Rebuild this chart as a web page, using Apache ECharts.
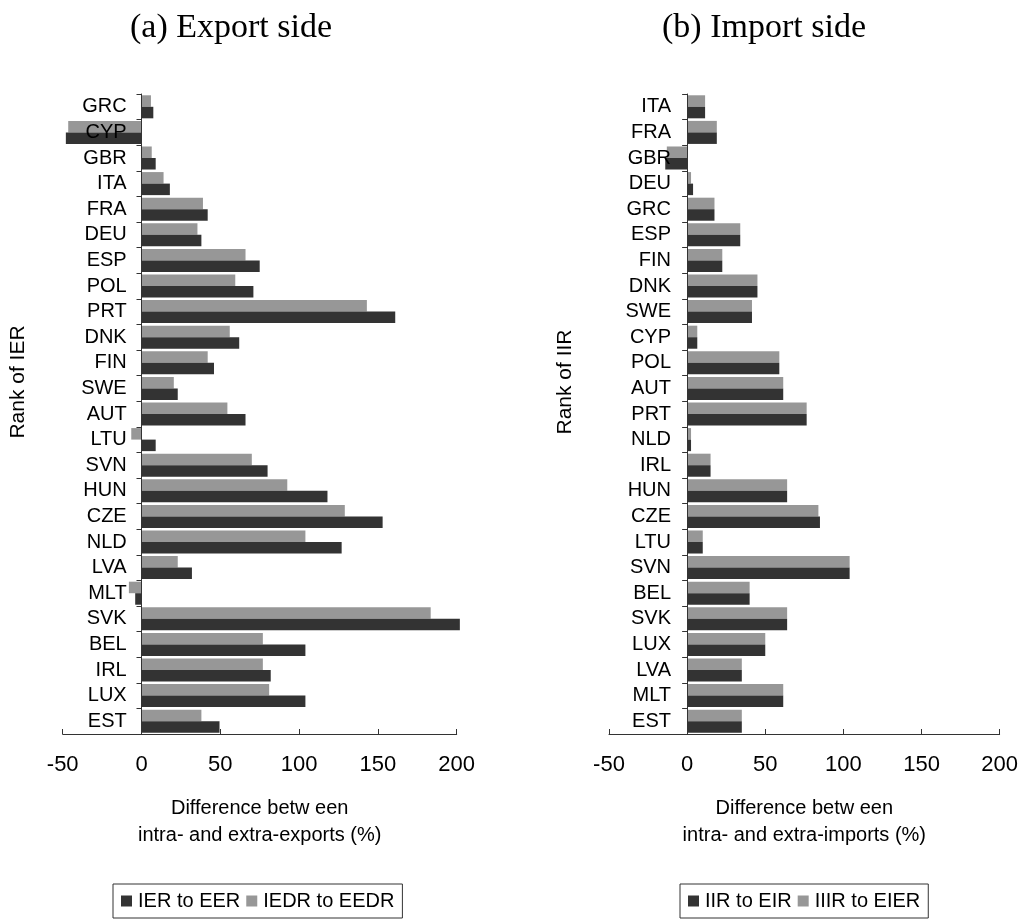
<!DOCTYPE html>
<html>
<head>
<meta charset="utf-8">
<script src="https://cdn.jsdelivr.net/npm/echarts@6/dist/echarts.min.js"></script>
<style>
  html, body { margin: 0; padding: 0; background: #fff; }
  #chart { width: 1021px; height: 923px; }
</style>
</head>
<body>
<div id="chart"></div>
<script>
// Export side: countries ranked by IER
const exportCountries = ['GRC','CYP','GBR','ITA','FRA','DEU','ESP','POL','PRT','DNK','FIN','SWE','AUT','LTU','SVN','HUN','CZE','NLD','LVA','MLT','SVK','BEL','IRL','LUX','EST'];
const ierToEer   = [7.5,-48,9,18,42,38,75,71,161,62,46,23,66,9,80,118,153,127,32,-4,202,104,82,104,49.5];
const iedrToEedr = [6,-46.5,6.5,14,39,35.5,66,59.5,143,56,42,20.5,54.5,-6.5,70,92.5,129,104,23,-8,183.5,77,77,81,38];

// Import side: countries ranked by IIR
const importCountries = ['ITA','FRA','GBR','DEU','GRC','ESP','FIN','DNK','SWE','CYP','POL','AUT','PRT','NLD','IRL','HUN','CZE','LTU','SVN','BEL','SVK','LUX','LVA','MLT','EST'];
const iirToEir   = [11.5,19,-14,3.8,17.5,34,22.5,45,41.5,6.5,59,61.5,76.5,2.5,15,64,85,10,104,40,64,50,35,61.5,35];
const iiirToEier = [11.5,19,-13,2.5,17.5,34,22.5,45,41.5,6.5,59,61.5,76.5,2.5,15,64,84,10,104,40,64,50,35,61.5,35];

// Shared value-axis ticks
const valueTicks = { min: -50, max: 200, interval: 50 };

const DARK = '#333333';
const GRAY = '#979797';
const AXIS = '#333333';
const SANS = 'Liberation Sans, Arial, sans-serif';
const SERIF = 'Liberation Serif, Times New Roman, serif';

function valueAxis(gridIndex, name) {
  return {
    type: 'value', gridIndex,
    min: valueTicks.min, max: valueTicks.max, interval: valueTicks.interval,
    splitLine: { show: false },
    axisLine: { show: true, onZero: false, lineStyle: { color: AXIS, width: 1 } },
    axisTick: { show: true, inside: true, length: 5, lineStyle: { color: AXIS } },
    axisLabel: { color: '#000', fontFamily: SANS, fontSize: 22, margin: 20 },
    name, nameLocation: 'middle', nameGap: 61,
    nameTextStyle: { color: '#000', fontFamily: SANS, fontSize: 20, lineHeight: 27 }
  };
}

// Category labels sit just left of the zero line rather than at the grid edge
function categoryAxis(gridIndex, cats, labelMargin) {
  return {
    type: 'category', gridIndex, data: cats, inverse: true,
    axisLine: { show: true, onZero: true, lineStyle: { color: AXIS, width: 1 } },
    axisTick: { show: true, length: 5, lineStyle: { color: AXIS } },
    axisLabel: { color: '#000', fontFamily: SANS, fontSize: 20, margin: labelMargin, interval: 0 },
    z: 5
  };
}

function barSeries(name, idx, data, color) {
  return {
    type: 'bar', name, xAxisIndex: idx, yAxisIndex: idx, data,
    itemStyle: { color }, barGap: '0%', barCategoryGap: '10%',
    clip: false, silent: true
  };
}

function legendBox(names, left) {
  return {
    data: names, left, top: 884, orient: 'horizontal',
    icon: 'rect', itemWidth: 11, itemHeight: 11, itemGap: 6,
    padding: [7, 8, 7, 8], borderColor: '#333', borderWidth: 1,
    textStyle: { fontFamily: SANS, fontSize: 20, color: '#000', padding: [0, 0, 0, 1] }
  };
}

const chart = echarts.init(document.getElementById('chart'), null, { renderer: 'canvas' });

chart.setOption({
  animation: false,
  backgroundColor: '#fff',
  title: [
    { text: '(a) Export side', left: 226, top: 6, textAlign: 'center',
      textStyle: { fontFamily: SERIF, fontSize: 34, fontWeight: 'normal', color: '#000' } },
    { text: '(b) Import side', left: 759, top: 6, textAlign: 'center',
      textStyle: { fontFamily: SERIF, fontSize: 34, fontWeight: 'normal', color: '#000' } }
  ],
  grid: [
    { left: 62.7, right: 1021 - 456.7, top: 94, bottom: 923 - 734 },
    { left: 609, right: 1021 - 1007, top: 94, bottom: 923 - 734 }
  ],
  xAxis: [
    valueAxis(0, 'Difference betw een\nintra- and extra-exports (%)'),
    valueAxis(1, 'Difference betw een\nintra- and extra-imports (%)')
  ],
  yAxis: [
    categoryAxis(0, exportCountries, -64),
    categoryAxis(1, importCountries, -62)
  ],
  legend: [
    legendBox(['IER to EER', 'IEDR to EEDR'], 113),
    legendBox(['IIR to EIR', 'IIIR to EIER'], 680)
  ],
  graphic: [
    { type: 'text', x: 18, y: 382, rotation: Math.PI / 2,
      style: { text: 'Rank of IER', font: '21px ' + SANS, fill: '#000', align: 'center', verticalAlign: 'middle' } },
    { type: 'text', x: 565, y: 382, rotation: Math.PI / 2,
      style: { text: 'Rank of IIR', font: '21px ' + SANS, fill: '#000', align: 'center', verticalAlign: 'middle' } }
  ],
  series: [
    barSeries('IEDR to EEDR', 0, iedrToEedr, GRAY),
    barSeries('IER to EER', 0, ierToEer, DARK),
    barSeries('IIIR to EIER', 1, iiirToEier, GRAY),
    barSeries('IIR to EIR', 1, iirToEir, DARK)
  ]
});
</script>
</body>
</html>
